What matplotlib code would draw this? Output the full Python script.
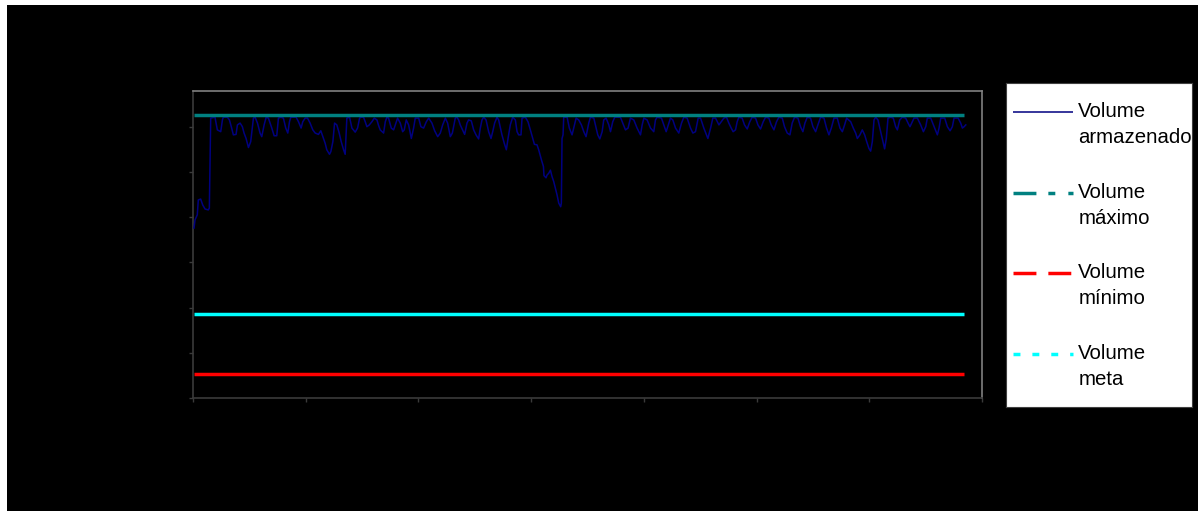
import matplotlib
matplotlib.use('Agg')

import matplotlib.pyplot as plt
from matplotlib.patches import Rectangle

plt.rcParams['font.family'] = ['Liberation Sans', 'DejaVu Sans']
plt.rcParams['lines.scale_dashes'] = False

# --- data (axis units: x 0..70, y 0..68) ---
tempo = [0.09, 0.18, 0.38, 0.47, 0.68, 0.86, 1.07, 1.36, 1.45, 1.57, 1.95, 2.16, 2.46, 2.61, 2.69,
         3.05, 3.23, 3.43, 3.58, 3.82, 3.94, 4.18, 4.38, 4.53, 4.71, 4.92, 5.12, 5.36, 5.51, 5.72,
         5.95, 6.10, 6.31, 6.49, 6.69, 6.99, 7.20, 7.43, 7.58, 7.79, 8.02, 8.23, 8.41, 8.56, 8.68,
         9.15, 9.36, 9.59, 9.74, 9.95, 10.16, 10.39, 10.63, 10.84, 11.13, 11.34, 11.52, 11.73, 11.87,
         12.11, 12.23, 12.41, 12.56, 12.76, 12.97, 13.15, 13.36, 13.50, 13.65, 13.89, 14.10, 14.39,
         14.60, 14.78, 14.89, 15.13, 15.28, 15.43, 15.64, 15.87, 16.08, 16.32, 16.46, 16.61, 16.91,
         17.06, 17.20, 17.35, 17.59, 17.80, 18.00, 18.15, 18.39, 18.60, 18.74, 18.92, 19.13, 19.37,
         19.57, 19.72, 20.02, 20.22, 20.46, 20.70, 20.91, 21.20, 21.44, 21.71, 21.94, 22.15, 22.39,
         22.59, 22.83, 23.01, 23.27, 23.42, 23.57, 23.71, 23.92, 24.10, 24.31, 24.45, 24.69, 24.90,
         25.11, 25.34, 25.49, 25.64, 25.79, 26.00, 26.23, 26.44, 26.59, 26.76, 26.97, 27.12, 27.41,
         27.62, 27.80, 27.95, 28.15, 28.36, 28.60, 28.75, 28.89, 29.10, 29.19, 29.49, 29.72, 29.93,
         30.14, 30.29, 30.52, 30.67, 30.91, 31.09, 31.14, 31.32, 31.41, 31.56, 31.71, 31.85, 32.00,
         32.15, 32.30, 32.45, 32.62, 32.68, 32.74, 32.83, 32.89, 33.19, 33.39, 33.63, 33.84, 33.99,
         34.22, 34.46, 34.67, 34.87, 35.11, 35.26, 35.56, 35.70, 35.91, 36.09, 36.30, 36.44, 36.65,
         36.89, 37.04, 37.24, 37.42, 37.92, 38.13, 38.37, 38.60, 38.81, 39.11, 39.40, 39.70, 39.85,
         40.00, 40.29, 40.59, 40.88, 41.03, 41.18, 41.56, 41.77, 41.98, 42.22, 42.36, 42.57, 42.81,
         43.10, 43.34, 43.55, 43.84, 44.14, 44.35, 44.58, 44.82, 45.03, 45.32, 45.68, 45.92, 46.12,
         46.36, 46.66, 47.10, 47.33, 47.54, 47.75, 47.92, 48.13, 48.28, 48.43, 48.72, 48.93, 49.17,
         49.40, 49.61, 49.91, 50.12, 50.35, 50.59, 50.80, 51.09, 51.30, 51.54, 51.77, 51.98, 52.28,
         52.48, 52.72, 52.96, 53.16, 53.37, 53.67, 53.90, 54.11, 54.29, 54.50, 54.79, 55.00, 55.24,
         55.44, 55.68, 55.98, 56.21, 56.42, 56.63, 56.87, 57.16, 57.40, 57.61, 57.81, 57.99, 58.35,
         58.58, 58.79, 58.94, 59.17, 59.38, 59.59, 59.77, 59.97, 60.12, 60.27, 60.42, 60.57, 60.77,
         61.01, 61.22, 61.36, 61.51, 61.66, 61.90, 62.13, 62.34, 62.49, 62.70, 62.93, 63.23, 63.44,
         63.61, 63.82, 63.97, 64.27, 64.56, 64.80, 65.01, 65.15, 65.45, 65.75, 66.04, 66.19, 66.34,
         66.69, 66.93, 67.17, 67.37, 67.52, 67.88, 68.11, 68.26, 68.41, 68.56]

volume_armazenado = [37.6, 39.4, 40.5, 43.8, 44.0, 42.7, 41.8, 41.6, 42.0, 61.9, 62.1, 59.3, 58.9, 61.5, 62.1,
                     62.1, 61.5, 59.7, 58.2, 58.3, 60.4, 60.8, 60.0, 58.6, 57.4, 55.4, 56.7, 61.9, 62.1, 60.8,
                     58.6, 57.8, 60.4, 62.1, 61.9, 59.7, 58.0, 58.0, 61.9, 62.1, 61.9, 59.7, 58.6, 61.1, 62.1,
                     62.1, 61.1, 59.7, 61.1, 61.9, 61.9, 60.8, 59.3, 58.6, 58.3, 59.1, 57.8, 56.3, 54.9,
                     53.9, 54.5, 56.7, 60.8, 60.4, 58.6, 56.7, 54.9, 53.9, 61.9, 62.1, 59.7, 58.8,
                     59.7, 61.9, 62.1, 62.1, 61.1, 60.0, 60.4, 61.1, 61.9, 61.5, 60.3, 59.3, 58.6,
                     61.1, 62.1, 61.9, 59.7, 59.3, 60.8, 61.9, 60.8, 58.9, 59.3, 61.5, 60.4, 57.4,
                     59.7, 61.9, 61.9, 60.0, 59.7, 61.1, 61.9, 60.8, 59.1, 57.8, 58.6, 60.4, 61.9,
                     60.8, 57.8, 58.6, 61.9, 62.1, 61.5, 60.4, 59.3, 58.3, 60.8, 61.5, 61.3, 59.3,
                     58.2, 57.3, 59.7, 61.5, 62.1, 61.5, 58.9, 57.4, 58.9, 60.8, 62.1, 61.5, 58.2,
                     56.3, 54.9, 57.4, 60.4, 62.1, 61.5, 58.9, 58.2, 58.2, 61.9, 62.1, 61.1, 59.3,
                     57.4, 56.1, 56.0, 54.9, 52.7, 51.2, 49.2, 48.7, 49.3, 49.7, 50.4, 49.0, 47.9,
                     46.4, 44.9, 43.1, 42.3, 43.1, 57.4, 58.2, 62.1, 62.1, 59.7, 58.2, 60.4, 61.9,
                     61.5, 60.4, 58.9, 57.8, 60.8, 62.1, 61.9, 60.4, 58.2, 57.3, 58.9, 61.5, 61.9,
                     60.4, 58.9, 61.1, 62.1, 62.1, 60.8, 59.3, 59.7, 61.9, 61.5, 59.7, 58.2, 60.4,
                     61.9, 61.5, 59.7, 58.9, 61.5, 62.1, 61.9, 60.4, 58.9, 60.8, 61.9, 61.5, 59.7,
                     58.6, 60.8, 62.1, 61.9, 59.7, 58.6, 58.9, 61.9, 61.9, 59.7, 57.4, 59.7, 61.9,
                     61.9, 60.4, 61.9, 62.1, 60.8, 59.7, 58.9, 59.3, 61.1, 62.1, 61.9, 60.4, 59.5,
                     61.1, 62.1, 61.9, 60.4, 59.5, 61.1, 62.1, 61.9, 60.4, 59.3, 61.1, 62.1, 61.9,
                     60.0, 58.6, 58.2, 60.8, 62.1, 61.9, 60.0, 58.9, 60.8, 62.1, 61.9, 60.0, 58.9,
                     60.4, 62.1, 61.9, 59.7, 58.2, 59.7, 61.9, 61.9, 59.7, 58.9, 60.4, 61.9, 61.1,
                     59.7, 58.6, 57.4, 58.2, 59.3, 58.2, 56.7, 55.2, 54.6, 56.7, 61.5, 62.1, 61.5,
                     58.9, 56.7, 55.1, 57.4, 61.9, 62.1, 61.9, 60.0, 59.3, 61.5, 62.1, 61.9, 60.8,
                     60.0, 61.1, 61.9, 61.9, 60.4, 58.9, 60.0, 61.9, 61.9, 60.0, 58.2, 59.7, 61.9,
                     61.9, 60.0, 59.1, 60.0, 61.9, 61.9, 60.8, 59.7, 60.0, 60.4]

volume_maximo = 62.6
volume_minimo = 5.35
volume_meta = 18.65
x_extent = [0.1, 68.4]

labels = ['Volume\narmazenado', 'Volume\nmáximo', 'Volume\nmínimo', 'Volume\nmeta']

W, H = 1198, 511
fig = plt.figure(figsize=(W / 100, H / 100), dpi=100)
fig.patch.set_facecolor('white')
fig.patches.append(Rectangle((7 / W, 0), 1 - 7 / W, (H - 5) / H, transform=fig.transFigure,
                             facecolor='black', edgecolor='none', zorder=-10))

ax = fig.add_axes([193 / W, (H - 398) / H, (982 - 193) / W, (398 - 91) / H])
ax.set_facecolor('black')

ax.plot(tempo, volume_armazenado, color='#000080', lw=1.1, zorder=3)
ax.plot(x_extent, [volume_maximo] * 2, color='#008080', lw=2.5, zorder=4, solid_capstyle='butt')
ax.plot(x_extent, [volume_minimo] * 2, color='#ff0000', lw=2.5, zorder=4, solid_capstyle='butt')
ax.plot(x_extent, [volume_meta] * 2, color='#00ffff', lw=2.5, zorder=4, solid_capstyle='butt')

ax.set_xlim(0, 70)
ax.set_ylim(0, 67.9)
ax.set_xticks(range(0, 71, 10))
ax.set_yticks(range(0, 61, 10))
ax.tick_params(direction='out', length=3, width=1, color='#3a3a3a',
               labelleft=False, labelbottom=False)
for s in ['left', 'bottom']:
    ax.spines[s].set_color('#3a3a3a')
for s in ['top', 'right']:
    ax.spines[s].set_color('#808080')
for s in ax.spines.values():
    s.set_linewidth(1.2)

# legend box (handle sits on the first text line, as in the original)
lg = fig.add_axes([1005.7 / W, (H - 407) / H, (1192 - 1005.7) / W, (407 - 83) / H])
lg.set_xlim(0, 186.3)
lg.set_ylim(324, 0)
lg.set_facecolor('white')
lg.set_xticks([])
lg.set_yticks([])
for s in lg.spines.values():
    s.set_color('#404040')
    s.set_linewidth(0.8)

styles = [dict(color='#000080', lw=1.1, ls='-'),
          dict(color='#008080', lw=2.5, ls=(0, (16.5, 8.6, 5, 9.4))),
          dict(color='#ff0000', lw=2.5, ls=(0, (16.5, 8.6))),
          dict(color='#00ffff', lw=2.5, ls=(0, (5, 8.6)))]
for i, (lab, st) in enumerate(zip(labels, styles)):
    yh = 29 + 80.7 * i
    lg.plot([7.5, 67.5], [yh, yh], solid_capstyle='butt', dash_capstyle='butt', **st)
    for j, line in enumerate(lab.split('\n')):
        lg.text(72.5, yh + 5 + 26 * j, line, fontsize=14.7, color='black', va='baseline', ha='left')

fig.savefig('out.png', dpi=100, facecolor=fig.get_facecolor())
